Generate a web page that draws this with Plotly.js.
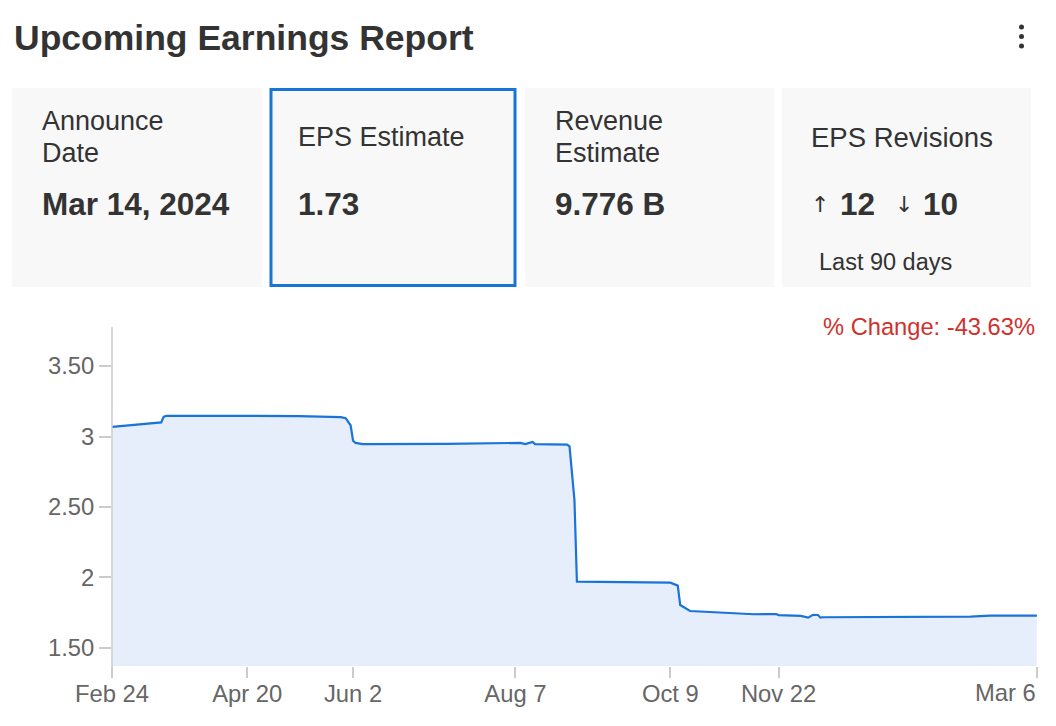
<!DOCTYPE html>
<html>
<head>
<meta charset="utf-8">
<script src="https://cdn.plot.ly/plotly-3.0.1.min.js"></script>
<style>
  html, body { margin: 0; padding: 0; background: #ffffff; }
  #chart { width: 1056px; height: 726px; }
</style>
</head>
<body>
<div id="chart"></div>
<script>
// ---- data ----
const dates = ['2023-02-24','2023-03-16','2023-03-17','2023-03-18','2023-04-20','2023-05-11','2023-05-28','2023-05-30','2023-06-01','2023-06-02','2023-06-03','2023-06-06','2023-07-10','2023-08-09','2023-08-11','2023-08-14','2023-08-15','2023-08-28','2023-08-29','2023-08-31','2023-09-01','2023-10-09','2023-10-12','2023-10-13','2023-10-17','2023-11-12','2023-11-21','2023-11-22','2023-12-01','2023-12-04','2023-12-06','2023-12-08','2023-12-09','2023-12-10','2024-02-08','2024-02-16','2024-03-06'];
const eps = [3.069,3.10,3.14,3.146,3.146,3.145,3.138,3.13,3.08,2.97,2.955,2.946,2.948,2.955,2.947,2.962,2.946,2.942,2.93,2.55,1.97,1.963,1.942,1.805,1.762,1.739,1.741,1.733,1.727,1.715,1.735,1.734,1.715,1.718,1.722,1.729,1.73];
const xTickVals = ['2023-02-24','2023-04-20','2023-06-02','2023-08-07','2023-10-09','2023-11-22','2024-03-06'];
const xTickText = ['Feb 24','Apr 20','Jun 2','Aug 7','Oct 9','Nov 22','Mar 6'];
const yTickVals = [1.5, 2, 2.5, 3, 3.5];
const yTickText = ['1.50','2','2.50','3','3.50'];

const titleText = 'Upcoming Earnings Report';
const announceLabel = ['Announce', 'Date'];
const announceValue = 'Mar 14, 2024';
const epsLabel = 'EPS Estimate';
const epsValue = '1.73';
const revenueLabel = ['Revenue', 'Estimate'];
const revenueValue = '9.776 B';
const revisionsLabel = 'EPS Revisions';
const revisionsUp = '12';
const revisionsDown = '10';
const revisionsNote = 'Last 90 days';
const changeText = '% Change: -43.63%';

// ---- layout helpers (pixel -> paper) ----
const L = 112, R = 1037, T = 327, B = 666;
const W = R - L, H = B - T;
const px = x => (x - L) / W;
const py = y => (B - y) / H;

const FONT = 'Liberation Sans, Arial, sans-serif';
const TXT = '#333333';
const TICK_TXT = '#666666';
const TICK_SIZE = 23.8;

function ann(text, x, y, size, opts) {
  return Object.assign({
    text: text, xref: 'paper', yref: 'paper', x: px(x), y: py(y),
    xanchor: 'left', yanchor: 'middle', showarrow: false,
    font: { family: FONT, size: size, color: TXT }
  }, opts || {});
}

const cardFill = '#f8f8f8';
function card(x0, x1) {
  return { type: 'rect', xref: 'paper', yref: 'paper', x0: px(x0), x1: px(x1), y0: py(287), y1: py(88),
           fillcolor: cardFill, line: { width: 0 }, layer: 'below' };
}

const shapes = [
  card(12, 262), card(525, 774), card(782, 1031),
  { type: 'rect', xref: 'paper', yref: 'paper', x0: px(271), x1: px(515), y0: py(285.5), y1: py(89.5),
    fillcolor: cardFill, line: { color: '#1874d6', width: 3 }, layer: 'below' },
  // kebab dots
  { type: 'circle', xref: 'paper', yref: 'paper', x0: px(1019), x1: px(1024), y0: py(29.5), y1: py(24.5), fillcolor: '#333', line: { width: 0 } },
  { type: 'circle', xref: 'paper', yref: 'paper', x0: px(1019), x1: px(1024), y0: py(39), y1: py(34), fillcolor: '#333', line: { width: 0 } },
  { type: 'circle', xref: 'paper', yref: 'paper', x0: px(1019), x1: px(1024), y0: py(48.5), y1: py(43.5), fillcolor: '#333', line: { width: 0 } },
  // y axis line extended below plot
  { type: 'line', xref: 'paper', yref: 'paper', x0: 0, x1: 0, y0: py(678), y1: 1, line: { color: '#cccccc', width: 1.5 } }
];

const ARROW_FONT = 'DejaVu Sans, sans-serif';
const lastIdx = xTickText.length - 1;
const annotations = [
  ann('<b>' + titleText + '</b>', 12, 38, 35.5),
  ann(announceLabel[0], 40, 121, 27),
  ann(announceLabel[1], 40, 153, 27),
  ann('<b>' + announceValue + '</b>', 40, 204, 31.5),
  ann(epsLabel, 296, 137, 27),
  ann('<b>' + epsValue + '</b>', 296, 204, 31.5),
  ann(revenueLabel[0], 553, 121, 27),
  ann(revenueLabel[1], 553, 153, 27),
  ann('<b>' + revenueValue + '</b>', 553, 204, 31.5),
  ann(revisionsLabel, 809, 137, 27.5),
  ann('↑', 809, 204, 22, { font: { family: ARROW_FONT, size: 22, color: TXT } }),
  ann('<b>' + revisionsUp + '</b>', 838, 204, 31.5),
  ann('↓', 893, 204, 22, { font: { family: ARROW_FONT, size: 22, color: TXT } }),
  ann('<b>' + revisionsDown + '</b>', 921, 204, 31.5),
  ann(revisionsNote, 817, 262, 23.5),
  ann(changeText, 1037, 327, 23.7, { xanchor: 'right', font: { family: FONT, size: 23.7, color: '#d0312d' } }),
  // last x tick label: right-aligned to its tick, as in the reference
  { text: xTickText[lastIdx], xref: 'x', yref: 'paper', x: xTickVals[lastIdx], y: py(692),
    xanchor: 'right', yanchor: 'middle', showarrow: false, xshift: 1,
    font: { family: FONT, size: TICK_SIZE, color: TICK_TXT } }
];

const trace = {
  type: 'scatter', mode: 'lines', x: dates, y: eps,
  line: { color: '#1a73d8', width: 2.2 },
  fill: 'tozeroy', fillcolor: 'rgba(227,236,252,0.9)',
  hoverinfo: 'x+y'
};

const xTickTextPlaced = xTickText.map((t, i) => i === lastIdx ? '' : t);

const layout = {
  width: 1056, height: 726,
  margin: { l: L, r: 1056 - R, t: T, b: 726 - B, pad: 0 },
  paper_bgcolor: '#ffffff', plot_bgcolor: '#ffffff',
  showlegend: false,
  font: { family: FONT, color: TICK_TXT },
  xaxis: {
    type: 'date', range: ['2023-02-24', '2024-03-06 01:00'],
    tickmode: 'array', tickvals: xTickVals, ticktext: xTickTextPlaced,
    showgrid: false, zeroline: false, showline: false,
    ticks: 'outside', ticklen: 11, tickwidth: 1.5, tickcolor: '#cccccc',
    tickfont: { family: FONT, size: TICK_SIZE, color: TICK_TXT },
    ticklabelstandoff: -5,
    fixedrange: true
  },
  yaxis: {
    range: [1.372, 3.777],
    tickmode: 'array', tickvals: yTickVals, ticktext: yTickText,
    showgrid: false, zeroline: false, showline: false,
    ticks: 'outside', ticklen: 12, tickwidth: 1.5, tickcolor: '#cccccc',
    tickfont: { family: FONT, size: TICK_SIZE, color: TICK_TXT },
    ticklabelstandoff: 0,
    fixedrange: true
  },
  shapes: shapes,
  annotations: annotations
};

Plotly.newPlot('chart', [trace], layout, { displayModeBar: false });
</script>
</body>
</html>
